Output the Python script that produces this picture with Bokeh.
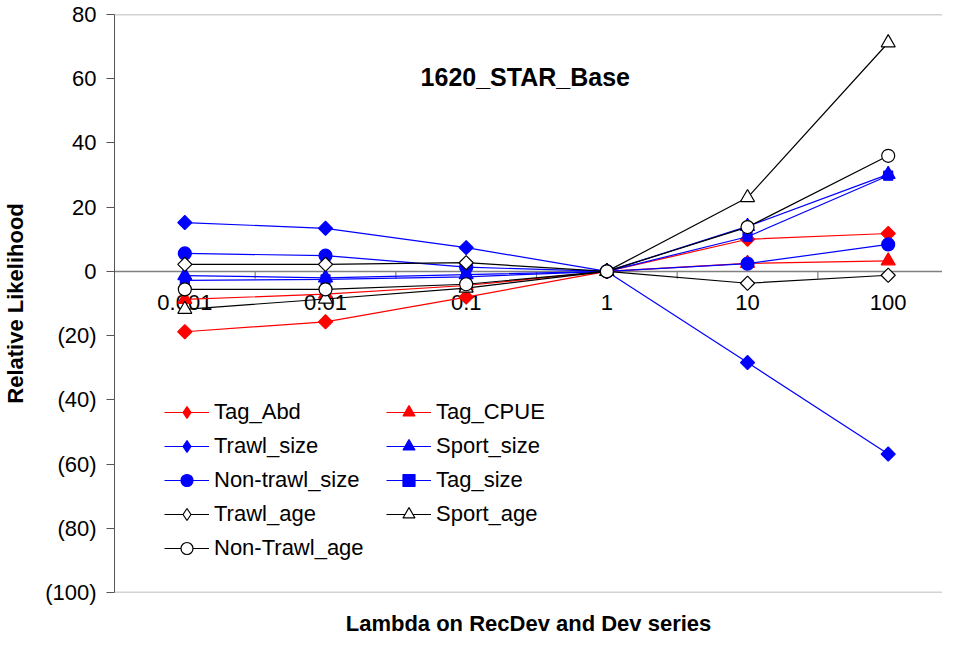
from bokeh.plotting import figure
from bokeh.models import (Range1d, Span, Label, Legend, LegendItem, FixedTicker,
                          CustomJSTickFormatter)
from bokeh.core.properties import value
from bokeh.embed import file_html
from bokeh.resources import INLINE

# ---- data ----
lambdas = ["0.001", "0.01", "0.1", "1", "10", "100"]
tag_abd = [-18.8, -15.7, -8.0, 0, 10.0, 11.8]
tag_cpue = [-8.7, -7.1, -4.4, 0, 2.5, 3.3]
trawl_size = [15.2, 13.4, 7.4, 0, -28.4, -56.9]
sport_size = [-1.3, -2.0, -1.0, 0, 14.0, 30.2]
nontrawl_size = [5.6, 4.9, 1.3, 0, 2.4, 8.4]
tag_size = [-2.8, -2.5, -1.7, 0, 10.8, 29.8]
trawl_age = [2.2, 2.2, 2.7, 0, -3.7, -1.2]
sport_age = [-11.8, -8.6, -5.2, 0, 23.0, 71.2]
nontrawl_age = [-5.6, -5.6, -4.0, 0, 13.8, 36.0]
y_ticks = [-100, -80, -60, -40, -20, 0, 20, 40, 60, 80]

FONT = "Liberation Sans"
xs = list(range(len(lambdas)))
NAN = float("nan")

p = figure(width=942, height=642, output_backend="svg", toolbar_location=None,
           x_range=Range1d(-0.5, 5.386), y_range=Range1d(-100, 80),
           min_border_left=112, min_border_right=0, min_border_top=14,
           min_border_bottom=50)
p.xgrid.visible = False
p.ygrid.visible = False
p.outline_line_color = None
p.background_fill_color = "white"

# y axis
p.yaxis.ticker = FixedTicker(ticks=y_ticks)
p.yaxis.formatter = CustomJSTickFormatter(
    code="return tick < 0 ? '(' + Math.abs(tick) + ')' : tick.toString();")
p.yaxis.axis_label = "Relative Likelihood"
p.yaxis.axis_label_text_font = FONT
p.yaxis.axis_label_text_font_style = "bold"
p.yaxis.axis_label_text_font_size = "22px"
p.yaxis.axis_label_text_color = "black"
p.yaxis.axis_label_standoff = 14
p.yaxis.major_label_text_font = FONT
p.yaxis.major_label_text_font_size = "22px"
p.yaxis.major_label_text_color = "black"
p.yaxis.major_label_standoff = 10
p.yaxis.major_tick_in = 0
p.yaxis.major_tick_out = 8
p.yaxis.minor_tick_line_color = None
p.yaxis.axis_line_color = "#555555"
p.yaxis.major_tick_line_color = "#555555"

# x axis: only the title
p.xaxis.ticker = FixedTicker(ticks=[])
p.xaxis.axis_line_color = None
p.xaxis.major_tick_line_color = None
p.xaxis.minor_tick_line_color = None
p.xaxis.axis_label = "Lambda on RecDev and Dev series"
p.xaxis.axis_label_text_font = FONT
p.xaxis.axis_label_text_font_style = "bold"
p.xaxis.axis_label_text_font_size = "22px"
p.xaxis.axis_label_text_color = "black"
p.xaxis.axis_label_standoff = 18

# frame top/bottom borders and zero line
p.add_layout(Span(location=80, dimension="width", line_color="#a6a6a6", line_width=1.5))
p.add_layout(Span(location=-100, dimension="width", line_color="#a6a6a6", line_width=1.5))
p.add_layout(Span(location=0, dimension="width", line_color="#808080", line_width=1.5,
                  level="underlay"))

# category tick marks on the zero line
mids = [i + 0.5 for i in xs[:-1]]
p.segment(x0=mids, y0=[0] * len(mids), x1=mids, y1=[-2.3] * len(mids),
          line_color="#808080", line_width=1.2)

# category labels
p.text(x=xs, y=[0] * len(xs), text=lambdas, text_font=value(FONT),
       text_font_size="22px", text_align="center", text_baseline="middle",
       y_offset=31, text_color="black")

ANG = 0.785398
series = [
    ("Tag_Abd", tag_abd, "red", "diamond",
     dict(marker="square", size=10, angle=ANG, fill_color="red", line_color="red")),
    ("Tag_CPUE", tag_cpue, "red", "triangle",
     dict(marker="triangle", size=14, fill_color="red", line_color="red")),
    ("Trawl_size", trawl_size, "blue", "diamond",
     dict(marker="square", size=10, angle=ANG, fill_color="blue", line_color="blue")),
    ("Sport_size", sport_size, "blue", "triangle",
     dict(marker="triangle", size=14, fill_color="blue", line_color="blue")),
    ("Non-trawl_size", nontrawl_size, "blue", "circle",
     dict(marker="circle", size=13, fill_color="blue", line_color="blue")),
    ("Tag_size", tag_size, "blue", "square",
     dict(marker="square", size=9, fill_color="blue", line_color="blue")),
    ("Trawl_age", trawl_age, "black", "diamond",
     dict(marker="square", size=10, angle=ANG, fill_color="white", line_color="black")),
    ("Sport_age", sport_age, "black", "triangle",
     dict(marker="triangle", size=14, fill_color="white", line_color="black")),
    ("Non-Trawl_age", nontrawl_age, "black", "circle",
     dict(marker="circle", size=13, fill_color="white", line_color="black")),
]

items = {}
for name, vals, col, legend_marker, mk in series:
    lr = p.line(xs, vals, line_color=col, line_width=1.2)
    p.scatter(xs, vals, line_width=1.2, **mk)
    # legend-only marker (a single non-drawable point) to show the proper shape
    lm = p.scatter([NAN], [NAN], marker=legend_marker, size=12,
                   fill_color=mk["fill_color"], line_color=mk["line_color"],
                   line_width=1.2)
    items[name] = LegendItem(label=name, renderers=[lr, lm])

order = ["Tag_Abd", "Trawl_size", "Non-trawl_size", "Trawl_age", "Non-Trawl_age",
         "Tag_CPUE", "Sport_size", "Tag_size", "Sport_age"]
legend = Legend(items=[items[n] for n in order], location=(50, 29),
                orientation="vertical", ncols=2,
                glyph_width=45, glyph_height=30, label_height=30, label_width=168,
                spacing=4, padding=0, margin=0, label_standoff=5,
                label_text_font=FONT, label_text_font_size="22px",
                label_text_color="black",
                border_line_color=None, background_fill_alpha=0)
p.add_layout(legend, "center")

title = Label(x=2.42, y=60.4, text="1620_STAR_Base", text_font=FONT,
              text_font_size="25px", text_font_style="bold", text_color="black",
              text_align="center", text_baseline="middle")
p.add_layout(title)

open("out.html", "w").write(file_html(p, INLINE))
